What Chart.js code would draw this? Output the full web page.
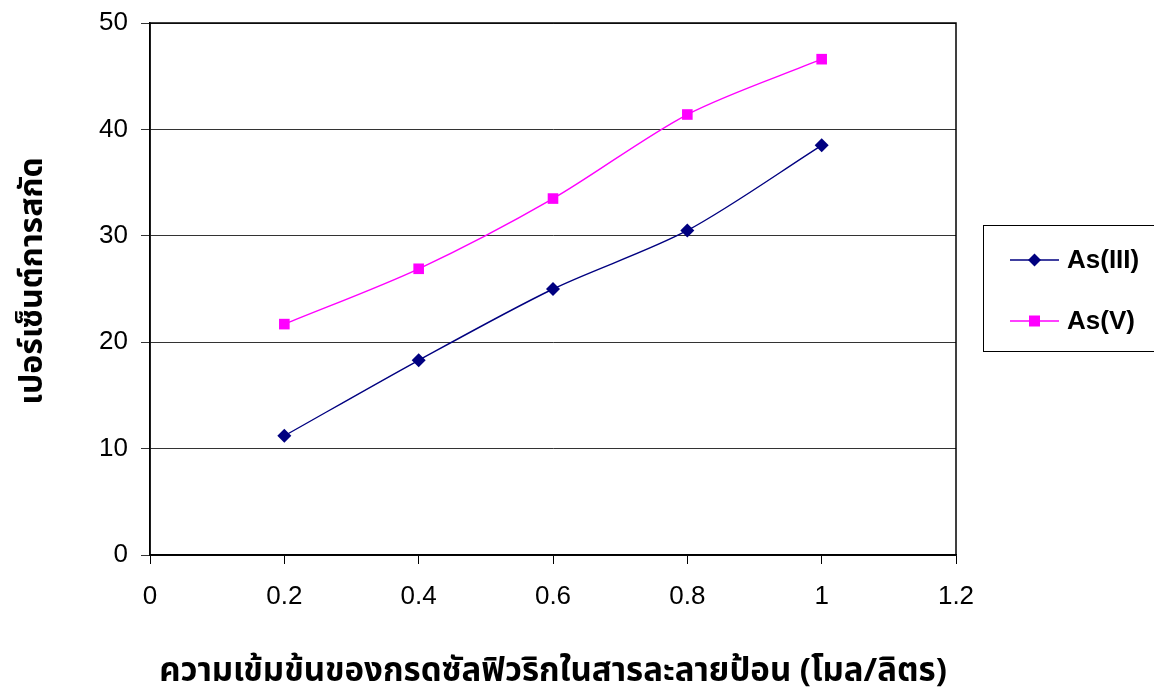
<!DOCTYPE html>
<html>
<head>
<meta charset="utf-8">
<script src="https://cdn.jsdelivr.net/npm/chart.js@4/dist/chart.umd.min.js"></script>
<style>
  html, body { margin: 0; padding: 0; background: #ffffff; }
  #wrap { width: 1154px; height: 697px; position: relative; }
</style>
</head>
<body>
<div id="wrap"><canvas id="c" width="1154" height="697"></canvas></div>
<script>
// Sulfuric acid concentration in the feed solution (mol/L)
const concentrations = [0.2, 0.4, 0.6, 0.8, 1.0];
// Percent extraction for each arsenic species
const asIII = [11.2, 18.3, 25.0, 30.5, 38.5];
const asV = [21.7, 26.9, 33.5, 41.4, 46.6];
// Axis ticks
const xTicks = [0, 0.2, 0.4, 0.6, 0.8, 1, 1.2];
const yTicks = [0, 10, 20, 30, 40, 50];

const seriesNames = ['As(III)', 'As(V)'];
const xTitle = 'ความเข้มข้นของกรดซัลฟิวริกในสารละลายป้อน (โมล/ลิตร)';
const yTitle = 'เปอร์เซ็นต์การสกัด';

const tickFont = { family: '"Liberation Sans", Arial, sans-serif', size: 26 };
const thaiFont = '"Noto Sans Thai", "Noto Sans", "DejaVu Sans", sans-serif';

function toPoints(xs, ys) { return xs.map((x, i) => ({ x: x, y: ys[i] })); }

// Frame around the plotting area, axis titles and boxed legend
const decorations = {
  id: 'decorations',
  afterDraw(chart) {
    const ctx = chart.ctx;
    const a = chart.chartArea;
    ctx.save();
    ctx.strokeStyle = '#000';
    ctx.lineWidth = 1.5;
    ctx.strokeRect(a.left, a.top, a.right - a.left, a.bottom - a.top);

    // axis titles
    ctx.fillStyle = '#000';
    ctx.textAlign = 'center';
    ctx.textBaseline = 'middle';
    ctx.font = 'bold 33px ' + thaiFont;
    ctx.fillText(xTitle, (a.left + a.right) / 2, 674);
    ctx.save();
    ctx.font = 'bold 32px ' + thaiFont;
    ctx.translate(36, 281);
    ctx.rotate(-Math.PI / 2);
    ctx.fillText(yTitle, 0, 0);
    ctx.restore();

    // legend box
    const bx = 983, by = 225, bw = 200, bh = 126;
    ctx.lineWidth = 1;
    ctx.strokeStyle = '#000';
    ctx.strokeRect(bx + 0.5, by + 0.5, bw, bh);
    chart.data.datasets.forEach((ds, i) => {
      const cy = by + 35 + i * 61;
      const x0 = bx + 27, x1 = bx + 76, xm = (x0 + x1) / 2;
      ctx.strokeStyle = ds.borderColor;
      ctx.lineWidth = 1.5;
      ctx.beginPath(); ctx.moveTo(x0, cy); ctx.lineTo(x1, cy); ctx.stroke();
      ctx.fillStyle = ds.pointBackgroundColor;
      if (ds.pointStyle === 'rectRot') {
        ctx.beginPath();
        ctx.moveTo(xm, cy - 6.5); ctx.lineTo(xm + 6.5, cy); ctx.lineTo(xm, cy + 6.5); ctx.lineTo(xm - 6.5, cy);
        ctx.closePath(); ctx.fill();
      } else {
        ctx.fillRect(xm - 5.5, cy - 5.5, 11, 11);
      }
      ctx.fillStyle = '#000';
      ctx.font = 'bold 26px "Liberation Sans", Arial, sans-serif';
      ctx.textAlign = 'left';
      ctx.textBaseline = 'middle';
      ctx.fillText(ds.label, bx + 84, cy + 1);
    });
    ctx.restore();
  }
};

new Chart(document.getElementById('c'), {
  type: 'line',
  data: {
    datasets: [
      {
        label: seriesNames[0],
        data: toPoints(concentrations, asIII),
        borderColor: '#000080',
        backgroundColor: '#000080',
        pointBackgroundColor: '#000080',
        pointBorderColor: '#000080',
        pointStyle: 'rectRot',
        pointRadius: 7,
        pointBorderWidth: 0,
        borderWidth: 1.4,
        tension: 0.3,
        fill: false
      },
      {
        label: seriesNames[1],
        data: toPoints(concentrations, asV),
        borderColor: '#ff00ff',
        backgroundColor: '#ff00ff',
        pointBackgroundColor: '#ff00ff',
        pointBorderColor: '#ff00ff',
        pointStyle: 'rect',
        pointRadius: 7.5,
        pointBorderWidth: 0,
        borderWidth: 1.4,
        tension: 0.3,
        fill: false
      }
    ]
  },
  options: {
    responsive: false,
    animation: false,
    layout: { padding: { left: 0, right: 198, top: 23, bottom: 0 } },
    plugins: { legend: { display: false }, tooltip: { enabled: false } },
    scales: {
      x: {
        type: 'linear',
        min: 0, max: 1.2,
        afterBuildTicks(s) { s.ticks = xTicks.map(v => ({ value: v })); },
        afterFit(s) { s.height = 142; s.paddingLeft = 0; s.paddingRight = 0; },
        ticks: {
          font: tickFont, color: '#000', padding: 17,
          callback: v => String(Math.round(v * 10) / 10)
        },
        grid: { drawOnChartArea: false, drawTicks: true, tickLength: 9, color: '#000' },
        border: { color: '#000', width: 1.5 }
      },
      y: {
        min: 0, max: 50,
        afterBuildTicks(s) { s.ticks = yTicks.map(v => ({ value: v })); },
        afterFit(s) { s.width = 150; s.paddingTop = 0; s.paddingBottom = 0; },
        ticks: { font: tickFont, color: '#000', padding: 13 },
        grid: { color: '#333', lineWidth: 1, drawTicks: true, tickLength: 9 },
        border: { color: '#000', width: 1.5 }
      }
    }
  },
  plugins: [decorations]
});
</script>
</body>
</html>
